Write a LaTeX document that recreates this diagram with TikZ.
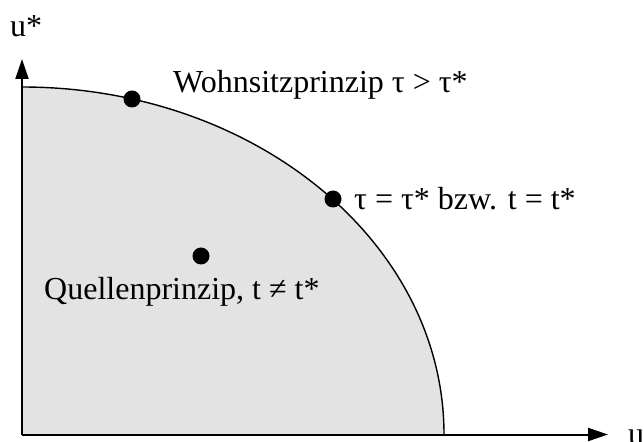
\documentclass[tikz,border=0pt]{standalone}
\usepackage{fontspec}
\setmainfont{Liberation Serif}
\usetikzlibrary{arrows.meta,positioning,calc}
\definecolor{ink}{RGB}{0,0,0}
\definecolor{shade}{RGB}{227,227,227}
\tikzset{
  every picture/.style={color=ink, x=1pt, y=1pt},
  axis/.style={-{Triangle[length=20pt,width=13pt]}, line width=2pt},
  region/.style={fill=shade},
  frontier/.style={line width=1.4pt},
  dot/.style={circle, fill=ink, inner sep=0pt, minimum size=17pt},
  lbl/.style={font=\fontsize{32}{37}\selectfont, inner sep=0pt, anchor=base west},
}

\begin{document}
\begin{tikzpicture}
  \useasboundingbox (0,0) rectangle (644,441);
  \coordinate (O) at (22,6.5);
  \coordinate (top) at (22,354);
  \coordinate (xend) at (608,6.5);
  \coordinate (yend) at (22,382);
  % utility possibility set
  \fill[region] (O) -- (top) arc[start angle=90, end angle=0, x radius=422pt, y radius=347.5pt] -- cycle;
  \draw[frontier] (top) arc[start angle=90, end angle=0, x radius=422pt, y radius=347.5pt];
  \draw[axis] (O) -- (xend);
  \draw[axis] (O) -- (yend);
  \node[lbl] (ustar) at (10,404) {u*};
  \node[lbl] (u) at (628,-3) {u};
  % points
  \node[dot] (wohn) at (132,342) {};
  \node[dot] (equal) at (333,242) {};
  \node[dot] (quelle) at (201,185) {};
  \node[lbl] (wohnlbl) at (173,348) {Wohnsitzprinzip τ > τ*};
  \node[lbl] (equallbl) at (354,231) {τ = τ* bzw. t = t*};
  \node[lbl] (quellelbl) at (44,141) {Quellenprinzip, t ≠ t*};
\end{tikzpicture}
\end{document}
